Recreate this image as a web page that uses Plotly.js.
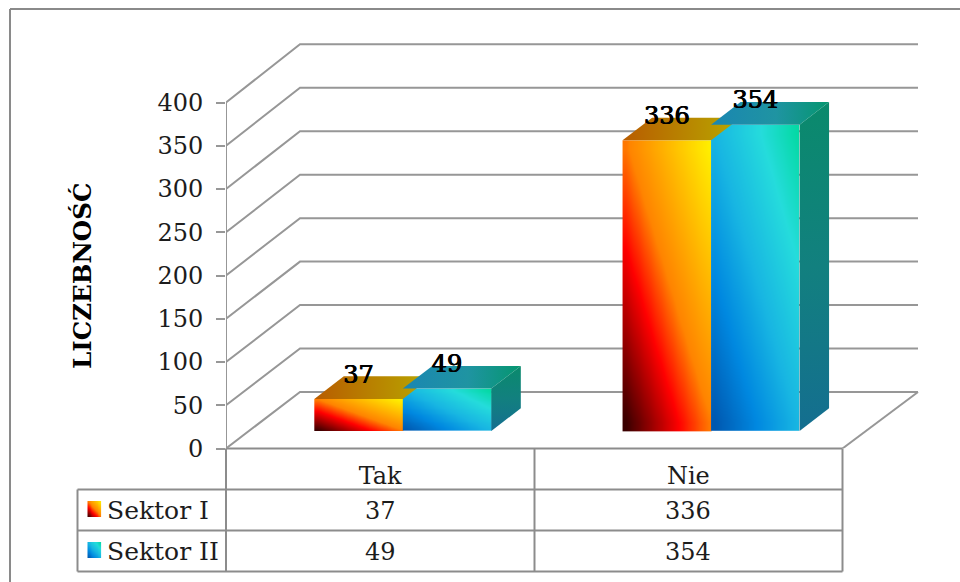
<!DOCTYPE html>
<html>
<head>
<meta charset="utf-8">
<script src="https://cdn.plot.ly/plotly-3.0.1.min.js"></script>
<style>html,body{margin:0;padding:0;background:#fff}</style>
</head>
<body>
<div id="chart" style="width:960px;height:582px"></div>
<script>
// Survey counts per answer and sector
const categories = ['Tak', 'Nie'];
const sektorI = [37, 336];
const sektorII = [49, 354];
const seriesNames = ['Sektor I', 'Sektor II'];
const axisTicks = [0, 50, 100, 150, 200, 250, 300, 350, 400];
const axisTitle = 'LICZEBNOŚĆ';

// Figure geometry in pixels; the plot frame maps value 0 to the front floor edge
const W = 960, H = 582;
const plotLeft = 226, plotRight = 930, plotBottom = 448.5, plotTop = 30;
const unitX = 308.25;          // pixels per category
const unitY = 0.865;           // pixels per count
const xStart = -0.5;
const xEnd = xStart + (plotRight - plotLeft) / unitX;
const yEnd = (plotBottom - plotTop) / unitY;
const pxW = p => p / W, pxH = p => 1 - p / H;

// Oblique projection offsets
const wallDx = 74 / unitX, wallDy = 56.5 / unitY, wallStretch = 1.005;
const floorRight = 1.5 + 75.5 / unitX;
const barBase = 17.5 / unitY;
const barDx = 29.5 / unitX, barDy = 22.7 / unitY;
const barWidth = 88.5 / unitX, barOffset = -0.2135;
const labelLift = 22.5 / unitY;

// Colours
const grid = '#979797', rule = '#8c8c8c', ink = '#1c1c1c';
const fire = [[0, '#3a0000'], [0.32, '#ff0000'], [0.52, '#ff8400'], [1, '#ffee00']];
const sea = [[0, '#0058b0'], [0.25, '#0088e0'], [0.5, '#18b6e2'], [0.78, '#25dcdc'], [1, '#05d9a5']];
const fireTop = [[0, '#b85c00'], [1, '#b8a800']];
const seaTop = [[0, '#1a86b2'], [0.55, '#1f94a2'], [1, '#05966f']];
const seaSide = [[0, '#146e90'], [0.5, '#12807f'], [1, '#0a8a6c']];

const serif = 'DejaVu Serif, Liberation Serif, serif';
const fontSize = 24;

// A rectangle with a diagonal ramp, low corner bottom-left, high corner top-right
function ramp(x0, x1, y0, y1, colorscale, xa, ya) {
  const n = 16, xs = [], ys = [], z = [];
  for (let i = 0; i <= n; i++) {
    xs.push(x0 + (x1 - x0) * i / n);
    ys.push(y0 + (y1 - y0) * i / n);
  }
  for (let j = 0; j < n; j++) {
    const row = [];
    for (let i = 0; i < n; i++) row.push((i + j) / (2 * (n - 1)));
    z.push(row);
  }
  return {type: 'heatmap', x: xs, y: ys, z, zmin: 0, zmax: 1, zsmooth: 'best',
    colorscale, showscale: false, hoverinfo: 'skip', xaxis: xa, yaxis: ya};
}

// A polygon face with a linear ramp
function face(xs, ys, type, colorscale) {
  return {type: 'scatter', mode: 'none', x: xs, y: ys, fill: 'toself',
    fillgradient: {type, colorscale}, hoverinfo: 'skip', showlegend: false};
}

const traces = [];
const left = i => i + barOffset;

// Front faces
categories.forEach((c, i) => {
  traces.push(ramp(left(i), left(i) + barWidth, barBase, barBase + sektorI[i], fire, 'x', 'y'));
  traces.push(ramp(left(i) + barWidth, left(i) + 2 * barWidth, barBase, barBase + sektorII[i], sea, 'x', 'y'));
});

// Value-carrying bars over the ramps
[sektorI, sektorII].forEach((vals, s) => {
  traces.push({type: 'bar', name: seriesNames[s], x: categories.map((c, i) => i), y: vals,
    base: barBase, width: barWidth, offset: barOffset + s * barWidth,
    marker: {color: 'rgba(0,0,0,0)', line: {width: 0}}, hoverinfo: 'skip', showlegend: false});
});

// Top and side faces
categories.forEach((c, i) => {
  const a = left(i), b = a + barWidth, d = b + barWidth;
  const t1 = barBase + sektorI[i], t2 = barBase + sektorII[i];
  traces.push(face([a, a + barDx, b + barDx, b, a], [t1, t1 + barDy, t1 + barDy, t1, t1], 'horizontal', fireTop));
  traces.push(face([b, b + barDx, d + barDx, d, b], [t2, t2 + barDy, t2 + barDy, t2, t2], 'horizontal', seaTop));
  traces.push(face([d, d + barDx, d + barDx, d, d], [barBase, barBase + barDy, t2 + barDy, t2, barBase], 'vertical', seaSide));
});

// Value labels above each bar
[sektorI, sektorII].forEach((vals, s) => {
  traces.push({type: 'scatter', mode: 'text',
    x: categories.map((c, i) => left(i) + (s + 0.5) * barWidth),
    y: vals.map(v => barBase + v + labelLift),
    text: vals.map(String), textposition: 'middle center',
    textfont: {family: serif, size: fontSize, color: '#000', shadow: '0.5px 0 0.6px #000, -0.5px 0 0.6px #000'},
    hoverinfo: 'skip', showlegend: false, cliponaxis: false});
});

// Legend keys in the data table
const keyX0 = 87.3, keyX1 = 101.3;
traces.push(ramp(keyX0, keyX1, -516.7, -501, fire, 'x2', 'y2'));
traces.push(ramp(keyX0, keyX1, -557.7, -542, sea, 'x2', 'y2'));

// Walls and floor, drawn behind the traces
const shapes = [];
const path = (d, color, width, layer) => ({type: 'path', path: d, xref: 'x', yref: 'y',
  line: {color, width}, layer: layer || 'below'});
axisTicks.forEach(v => {
  const back = v * wallStretch + wallDy;
  shapes.push(path(`M${xStart} ${v} L${xStart + wallDx} ${back} L${floorRight} ${back}`, grid, 2));
});
shapes.push(path(`M${xStart} 0 L${xStart} ${axisTicks[axisTicks.length - 1]}`, grid, 2));
shapes.push(path(`M1.5 0 L${floorRight} ${wallDy}`, grid, 2));

// Data table and outer frame
const rule2 = (x0, y0, x1, y1, color) => ({type: 'line', xref: 'paper', yref: 'paper',
  x0: pxW(x0), y0: pxH(y0), x1: pxW(x1), y1: pxH(y1), line: {color: color || rule, width: 2}, layer: 'below'});
const tableX = [77.5, 226, 534.5, 842.5];
const tableY = [448.5, 489.5, 530.5, 571.5];
shapes.push(rule2(tableX[1], tableY[0], tableX[3], tableY[0]));
shapes.push(rule2(tableX[0], tableY[1], tableX[3], tableY[1]));
shapes.push(rule2(tableX[0], tableY[2], tableX[3], tableY[2]));
shapes.push(rule2(tableX[0], tableY[3], tableX[3], tableY[3]));
shapes.push(rule2(tableX[0], tableY[1], tableX[0], tableY[3]));
shapes.push(rule2(tableX[1], tableY[0], tableX[1], tableY[3]));
shapes.push(rule2(tableX[2], tableY[0], tableX[2], tableY[3]));
shapes.push(rule2(tableX[3], tableY[0], tableX[3], tableY[3]));
shapes.push(rule2(10, 9, W, 9, '#8a8a8a'));
shapes.push(rule2(10, 9, 10, H, '#8a8a8a'));

// Table text and axis title
const annotations = [];
const rowMid = [510.5, 551.5];
[sektorI, sektorII].forEach((vals, s) => {
  annotations.push({text: seriesNames[s], xref: 'paper', yref: 'paper', x: pxW(104.5), y: pxH(rowMid[s]),
    xanchor: 'left', yanchor: 'middle', showarrow: false, font: {family: serif, size: 25, color: ink}});
  vals.forEach((v, i) => annotations.push({text: String(v), xref: 'x', yref: 'paper', x: i, y: pxH(rowMid[s]),
    xanchor: 'center', yanchor: 'middle', showarrow: false, font: {family: serif, size: fontSize, color: ink}}));
});
annotations.push({text: '<b>' + axisTitle + '</b>', xref: 'paper', yref: 'paper', x: pxW(82), y: pxH(276),
  textangle: -90, xanchor: 'center', yanchor: 'middle', showarrow: false,
  font: {family: serif, size: 24.5, color: '#000'}});

const layout = {
  width: W, height: H, margin: {l: 0, r: 0, t: 0, b: 0},
  paper_bgcolor: '#fff', plot_bgcolor: 'rgba(0,0,0,0)', showlegend: false, barmode: 'overlay',
  xaxis: {domain: [pxW(plotLeft), pxW(plotRight)], range: [xStart, xEnd], tickmode: 'array',
    tickvals: categories.map((c, i) => i), ticktext: categories, ticks: '', showgrid: false, zeroline: false,
    showline: false, ticklabelstandoff: 10, tickfont: {family: serif, size: fontSize, color: ink}},
  yaxis: {domain: [pxH(plotBottom), pxH(plotTop)], range: [0, yEnd], tickmode: 'array',
    tickvals: axisTicks, ticks: 'outside', ticklen: 9, tickwidth: 2, tickcolor: grid,
    showgrid: false, zeroline: false, showline: false, ticklabelstandoff: 8,
    tickfont: {family: serif, size: fontSize, color: ink}},
  xaxis2: {domain: [pxW(keyX0), pxW(keyX1)], range: [keyX0, keyX1], visible: false, anchor: 'y2', fixedrange: true},
  yaxis2: {domain: [pxH(558), pxH(501)], range: [-558, -501], visible: false, anchor: 'x2', fixedrange: true},
  shapes, annotations
};

Plotly.newPlot('chart', traces, layout, {displayModeBar: false, staticPlot: true});
</script>
</body>
</html>
